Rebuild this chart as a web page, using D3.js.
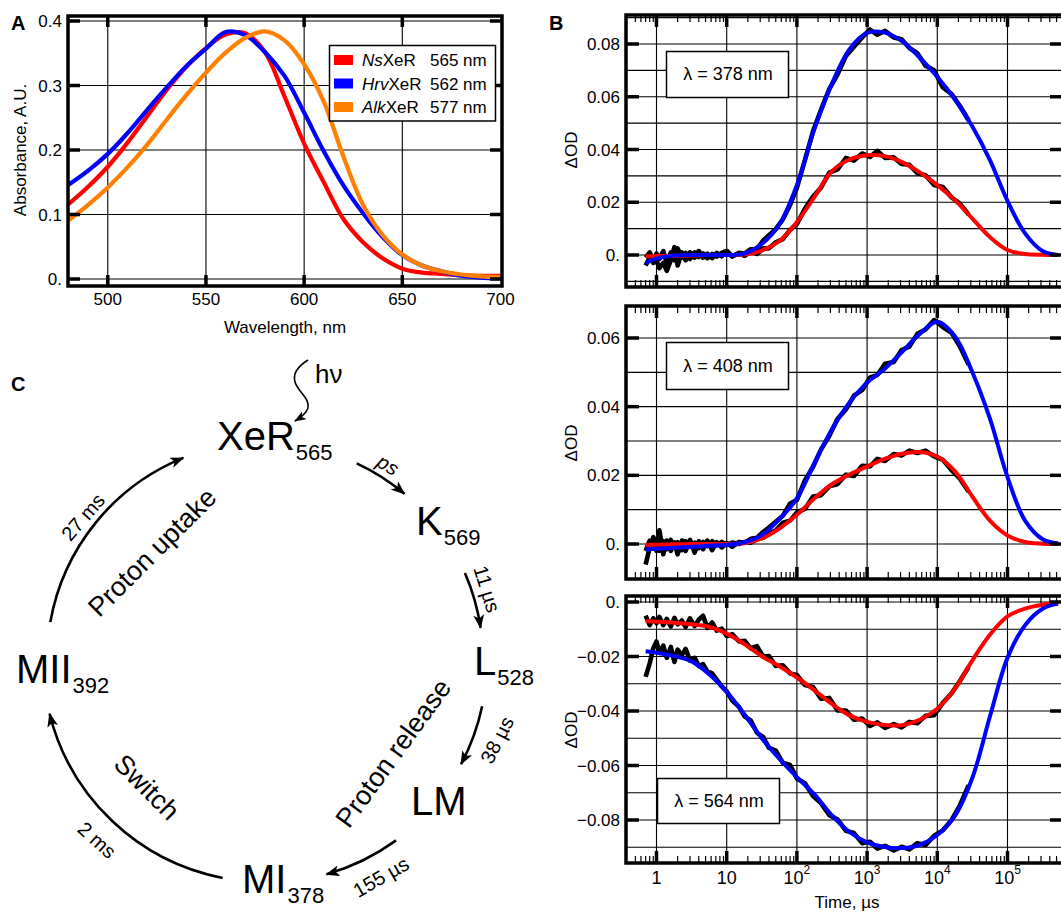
<!DOCTYPE html>
<html>
<head>
<meta charset="utf-8">
<script src="https://cdn.jsdelivr.net/npm/d3@7"></script>
<style>
  body { margin: 0; background: #fff; }
  svg { display: block; font-family: "Liberation Sans", Arial, Helvetica, sans-serif; }
</style>
</head>
<body>
<div id="fig"></div>
<script>
// ---------- panel A: absorption spectra ----------
const absWl = [480, 490, 500, 510, 520, 530, 540, 550, 560, 570, 580, 590, 600, 610, 620, 630, 640, 650, 660, 670, 680, 690, 700];
const absNs = [0.116, 0.143, 0.174, 0.211, 0.252, 0.293, 0.329, 0.358, 0.379, 0.381, 0.352, 0.283, 0.21, 0.15, 0.093, 0.057, 0.032, 0.016, 0.010, 0.008, 0.006, 0.005, 0.005];
const absHrv = [0.146, 0.168, 0.194, 0.226, 0.262, 0.297, 0.330, 0.357, 0.383, 0.378, 0.352, 0.315, 0.258, 0.198, 0.145, 0.102, 0.065, 0.037, 0.021, 0.012, 0.005, 0.002, 0.001];
const absAlk = [0.091, 0.115, 0.142, 0.173, 0.208, 0.247, 0.285, 0.320, 0.351, 0.374, 0.384, 0.370, 0.333, 0.275, 0.19, 0.115, 0.068, 0.038, 0.021, 0.012, 0.007, 0.004, 0.003];
const absTicksX = [500, 550, 600, 650, 700];
const absTicksY = [0, 0.1, 0.2, 0.3, 0.4];
const legendSpecies = ["Ns", "Hrv", "Alk"];
const legendPeaks = ["565 nm", "562 nm", "577 nm"];
const legendColors = ["#ff0000", "#0000ff", "#ff8000"];

// ---------- panel B: flash photolysis kinetics ----------
const fitTimes = [0.7, 1, 1.78, 3.16, 5.62, 10, 17.8, 31.6, 56.2, 100, 178, 316, 562, 1000, 1780, 3160, 5620, 10000, 17800, 31600, 56200, 100000, 178000, 316000, 525000];
const fit378Red = [-0.0005, -0.0004, -0.0003, -0.0002, 0, 0, 0.0002, 0.0017, 0.0053, 0.0125, 0.022, 0.0318, 0.0362, 0.0378, 0.0375, 0.0352, 0.0313, 0.0265, 0.0208, 0.0138, 0.0068, 0.0019, 0.0004, 0.0001, 0];
const fit378Blue = [-0.0030, -0.0014, -0.0002, 0, 0, 0, 0.0005, 0.0042, 0.0115, 0.0265, 0.0478, 0.065, 0.078, 0.0842, 0.0843, 0.081, 0.0748, 0.0676, 0.059, 0.0487, 0.036, 0.0205, 0.0082, 0.0015, 0];
const fit408Red = [-0.0003, -0.0002, -0.0001, 0, 0, 0, 0.0002, 0.0016, 0.0045, 0.0085, 0.0133, 0.0174, 0.0202, 0.0226, 0.0248, 0.0263, 0.0268, 0.0255, 0.0212, 0.0138, 0.0068, 0.0025, 0.0006, 0.0001, 0];
const fit408Blue = [-0.0016, -0.0014, -0.0011, -0.0008, -0.0005, -0.0003, 0.0005, 0.0026, 0.0072, 0.0133, 0.0236, 0.0334, 0.0412, 0.047, 0.051, 0.056, 0.0612, 0.0647, 0.0605, 0.050, 0.0365, 0.0195, 0.0068, 0.0014, 0.0002];
const fit564Red = [-0.0070, -0.0072, -0.0076, -0.0082, -0.0091, -0.0116, -0.0154, -0.0199, -0.0236, -0.0277, -0.0324, -0.0374, -0.0416, -0.044, -0.0451, -0.0452, -0.0432, -0.0392, -0.0318, -0.0214, -0.012, -0.0053, -0.0024, -0.001, -0.0004];
const fit564Blue = [-0.0181, -0.0186, -0.0198, -0.0218, -0.0265, -0.033, -0.0412, -0.050, -0.0575, -0.0643, -0.0706, -0.0783, -0.0844, -0.0882, -0.0899, -0.0903, -0.0891, -0.0855, -0.0785, -0.0645, -0.042, -0.0205, -0.0085, -0.0025, -0.0006];

const dataTimes = [0.7, 0.8, 0.9, 1, 1.1, 1.25, 1.4, 1.6, 1.8, 2, 2.3, 2.6, 3, 3.5, 4, 4.6, 5.3, 6.2, 7.2, 8.5, 10, 12, 15, 18, 22, 27, 33, 40, 50, 63, 80, 100, 130, 170, 220, 290, 380, 500, 650, 850, 1100, 1400, 1800, 2400, 3100, 4000, 5200, 6800, 9000, 12000, 16000, 21000, 28000];
const data378Red = [-0.001, 0.001, -0.002, 0.0005, -0.0015, 0.0015, -0.003, 0.001, -0.002, 0.0025, -0.001, 0.0008, -0.0015, 0.001, -0.0008, 0.0006, -0.0012, 0.0004, -0.0006, 0.0008, 0.0016, -0.0004, 0.0006, -0.0003, 0.0012, 0.0004, 0.0025, 0.0025, 0.0048, 0.006, 0.0095, 0.0118, 0.0175, 0.0222, 0.0255, 0.0312, 0.0325, 0.0368, 0.0358, 0.0385, 0.0372, 0.0395, 0.0368, 0.037, 0.0345, 0.0342, 0.031, 0.0302, 0.0265, 0.0258, 0.0218, 0.0195, 0.0153];
const data378Blue = [-0.004, -0.001, -0.003, -0.002, -0.005, -0.003, -0.006, -0.002, 0.003, -0.004, 0.001, -0.002, 0.001, -0.001, 0.0015, -0.001, 0.0005, -0.0012, 0.0008, -0.0005, 0.0012, -0.0006, 0.0008, 0.0005, 0.0022, 0.0022, 0.0055, 0.0075, 0.0098, 0.0135, 0.019, 0.0255, 0.036, 0.047, 0.055, 0.063, 0.0685, 0.0755, 0.079, 0.0825, 0.0855, 0.0835, 0.085, 0.0825, 0.0818, 0.0785, 0.0765, 0.0718, 0.07, 0.0635, 0.061, 0.0565, 0.051];
const data408Red = [-0.002, 0.001, -0.001, 0.0015, -0.002, 0.0008, -0.0015, 0.0012, -0.001, 0.0005, -0.0018, 0.0008, -0.0008, 0.0004, -0.0012, 0.0006, -0.0006, 0.0008, -0.0004, 0.0006, -0.0003, 0.0004, 0, 0.0006, 0.0004, 0.0014, 0.0018, 0.003, 0.004, 0.0062, 0.0068, 0.0092, 0.0102, 0.0138, 0.0142, 0.0168, 0.0175, 0.0202, 0.0198, 0.0228, 0.0226, 0.0248, 0.0242, 0.0262, 0.0258, 0.0272, 0.0265, 0.0272, 0.0255, 0.0245, 0.0215, 0.019, 0.0152];
const data408Blue = [-0.006, -0.001, 0.002, -0.002, 0.004, -0.003, 0.001, -0.002, 0.0005, -0.003, 0.001, -0.002, 0.0012, -0.0025, 0.0008, -0.0015, 0.001, -0.0018, 0.0005, -0.001, 0.0003, -0.0008, 0.0006, 0.0004, 0.0015, 0.0018, 0.0035, 0.0048, 0.0065, 0.0082, 0.0118, 0.0128, 0.0185, 0.0225, 0.0275, 0.0315, 0.0365, 0.0392, 0.0432, 0.0448, 0.0485, 0.0492, 0.0525, 0.053, 0.0565, 0.0575, 0.0612, 0.0625, 0.0652, 0.0632, 0.0615, 0.0575, 0.0522];
const data564Red = [-0.005, -0.0085, -0.006, -0.0078, -0.0055, -0.0085, -0.0062, -0.009, -0.0058, -0.0082, -0.0068, -0.0092, -0.006, -0.0088, -0.0065, -0.005, -0.0095, -0.0075, -0.0105, -0.0098, -0.0125, -0.0118, -0.0145, -0.0142, -0.017, -0.0162, -0.02, -0.0198, -0.0235, -0.0232, -0.0262, -0.0268, -0.0305, -0.0312, -0.0355, -0.0352, -0.0398, -0.0398, -0.0432, -0.0428, -0.0455, -0.0442, -0.0462, -0.0448, -0.046, -0.044, -0.0445, -0.0418, -0.0415, -0.037, -0.0335, -0.029, -0.0238];
const data564Blue = [-0.0275, -0.0225, -0.017, -0.0145, -0.0185, -0.016, -0.0205, -0.0165, -0.022, -0.0175, -0.0195, -0.0172, -0.0215, -0.0205, -0.0235, -0.0228, -0.0255, -0.0262, -0.0285, -0.031, -0.0328, -0.0362, -0.0385, -0.042, -0.0435, -0.048, -0.0495, -0.0535, -0.0545, -0.059, -0.0598, -0.0648, -0.0665, -0.0712, -0.0738, -0.0782, -0.0798, -0.084, -0.0848, -0.0885, -0.088, -0.0905, -0.0895, -0.0912, -0.0898, -0.0908, -0.0885, -0.0892, -0.0858, -0.0838, -0.08, -0.0746, -0.0672];

const timeDecades = [1, 10, 100, 1000, 10000, 100000];
const ticks378 = [0, 0.02, 0.04, 0.06, 0.08];
const ticks408 = [0, 0.02, 0.04, 0.06];
const ticks564 = [0, -0.02, -0.04, -0.06, -0.08];
const waveLabels = ["λ = 378 nm", "λ = 408 nm", "λ = 564 nm"];

const svg = d3.select("#fig").append("svg").attr("width", 1061).attr("height", 915);
const defs = svg.append("defs");

function tickFmt(v) {
    if (Math.abs(v) < 1e-9) return "0.";
    const s = Math.abs(v).toString();
    return (v < 0 ? "\u2212" : "") + s;
}

// ================= Panel A =================
const xA = d3.scaleLinear().domain([480, 700]).range([68.5, 500.5]);
const yA = d3.scaleLinear().domain([0, 0.4]).range([279, 21]);
const fA = {x0: 68, x1: 502, y0: 16, y1: 286};
const gA = svg.append("g");

defs.append("clipPath").attr("id", "clipA").append("rect")
    .attr("x", fA.x0).attr("y", fA.y0).attr("width", fA.x1 - fA.x0).attr("height", fA.y1 - fA.y0);

gA.selectAll("line.gx").data(absTicksX.filter(d => d < 700)).join("line").attr("class", "gx")
    .attr("x1", d => xA(d)).attr("x2", d => xA(d)).attr("y1", fA.y0).attr("y2", fA.y1)
    .attr("stroke", "#000").attr("stroke-width", 1.1);
gA.selectAll("line.gy").data(absTicksY).join("line").attr("class", "gy")
    .attr("x1", fA.x0).attr("x2", fA.x1).attr("y1", d => yA(d)).attr("y2", d => yA(d))
    .attr("stroke", "#000").attr("stroke-width", 1.1);

const lineA = d3.line().x((d, i) => xA(absWl[i])).y(d => yA(d)).curve(d3.curveCatmullRom.alpha(0.5));
const gAc = gA.append("g").attr("clip-path", "url(#clipA)");
[absNs, absHrv, absAlk].forEach((s, i) => {
    gAc.append("path").attr("d", lineA(s)).attr("fill", "none")
        .attr("stroke", legendColors[i]).attr("stroke-width", 4.2);
});

gA.append("rect").attr("x", fA.x0).attr("y", fA.y0).attr("width", fA.x1 - fA.x0).attr("height", fA.y1 - fA.y0)
    .attr("fill", "none").attr("stroke", "#000").attr("stroke-width", 3.5);

// major ticks
absTicksX.filter(d => d < 700).forEach(d => {
    gA.append("line").attr("x1", xA(d)).attr("x2", xA(d)).attr("y1", fA.y0).attr("y2", fA.y0 + 11).attr("stroke", "#000").attr("stroke-width", 3.5);
    gA.append("line").attr("x1", xA(d)).attr("x2", xA(d)).attr("y1", fA.y1).attr("y2", fA.y1 - 11).attr("stroke", "#000").attr("stroke-width", 3.5);
});
absTicksY.forEach(d => {
    gA.append("line").attr("x1", fA.x0).attr("x2", fA.x0 + 12).attr("y1", yA(d)).attr("y2", yA(d)).attr("stroke", "#000").attr("stroke-width", 3.5);
    gA.append("line").attr("x1", fA.x1).attr("x2", fA.x1 - 12).attr("y1", yA(d)).attr("y2", yA(d)).attr("stroke", "#000").attr("stroke-width", 3.5);
});

gA.selectAll("text.tx").data(absTicksX).join("text").attr("class", "tx")
    .attr("x", d => xA(d)).attr("y", 305).attr("text-anchor", "middle")
    .style("font-size", "17px").text(d => d);
gA.selectAll("text.ty").data(absTicksY).join("text").attr("class", "ty")
    .attr("x", 62).attr("y", d => yA(d)).attr("dy", "0.36em").attr("text-anchor", "end")
    .style("font-size", "17px").text(d => tickFmt(d));
gA.append("text").attr("x", 285).attr("y", 333).attr("text-anchor", "middle")
    .style("font-size", "17px").text("Wavelength, nm");
gA.append("text").attr("transform", "translate(26,150) rotate(-90)").attr("text-anchor", "middle")
    .style("font-size", "17px").text("Absorbance, A.U.");

// legend
gA.append("rect").attr("x", 329.5).attr("y", 45.5).attr("width", 166).attr("height", 75.5)
    .attr("fill", "#fff").attr("stroke", "#000").attr("stroke-width", 1.5);
legendSpecies.forEach((sp, i) => {
    const yy = 60 + i * 23.5;
    gA.append("rect").attr("x", 334).attr("y", yy - 5).attr("width", 19).attr("height", 10).attr("fill", legendColors[i]);
    const t = gA.append("text").attr("x", 362).attr("y", yy + 6).style("font-size", "17px");
    t.append("tspan").style("font-style", "italic").text(sp);
    t.append("tspan").text("XeR");
    gA.append("text").attr("x", 430).attr("y", yy + 6).style("font-size", "17px").text(legendPeaks[i]);
});

svg.append("text").attr("x", 11).attr("y", 30).style("font-size", "20px").style("font-weight", "bold").text("A");
svg.append("text").attr("x", 549).attr("y", 30).style("font-size", "20px").style("font-weight", "bold").text("B");
svg.append("text").attr("x", 11).attr("y", 391).style("font-size", "20px").style("font-weight", "bold").text("C");

// ================= Panel B =================
const tx = d3.scaleLog().domain([1, 1e5]).range([656.5, 1007.5]);
const bx0 = 626, bx1 = 1063;

const panels = [
    {top: 15, bottom: 287, dom: [0, 0.08], rng: [255, 44], ticks: ticks378, gridLo: -0.01, gridHi: 0.09,
     red: fit378Red, blue: fit378Blue, dRed: data378Red, dBlue: data378Blue, box: [666, 51, 122, 46], ylab: 150, axis: false},
    {top: 306, bottom: 579, dom: [0, 0.06], rng: [544, 338], ticks: ticks408, gridLo: -0.01, gridHi: 0.07,
     red: fit408Red, blue: fit408Blue, dRed: data408Red, dBlue: data408Blue, box: [666, 342, 122, 47], ylab: 443, axis: false},
    {top: 596, bottom: 863, dom: [0, -0.08], rng: [602, 820], ticks: ticks564, gridLo: -0.09, gridHi: 0.0,
     red: fit564Red, blue: fit564Blue, dRed: data564Red, dBlue: data564Blue, box: [657, 778, 122, 45], ylab: 730, axis: true}
];

const minorTimes = [];
[-1, 0, 1, 2, 3, 4, 5].forEach(e => { for (let k = 2; k <= 9; k++) minorTimes.push(k * Math.pow(10, e)); });

panels.forEach((p, i) => {
    const y = d3.scaleLinear().domain(p.dom).range(p.rng);
    const g = svg.append("g");
    const cid = "clipB" + i;
    defs.append("clipPath").attr("id", cid).append("rect")
        .attr("x", bx0).attr("y", p.top).attr("width", bx1 - bx0).attr("height", p.bottom - p.top);

    const hg = d3.range(p.gridLo, p.gridHi + 0.001, 0.01).filter(v => y(v) > p.top + 1 && y(v) < p.bottom - 1);
    g.selectAll("line.hg").data(hg).join("line").attr("class", "hg")
        .attr("x1", bx0).attr("x2", bx1).attr("y1", d => y(d)).attr("y2", d => y(d))
        .attr("stroke", "#000").attr("stroke-width", 1.1);
    g.selectAll("line.vg").data(timeDecades).join("line").attr("class", "vg")
        .attr("x1", d => tx(d)).attr("x2", d => tx(d)).attr("y1", p.top).attr("y2", p.bottom)
        .attr("stroke", "#000").attr("stroke-width", 1.1);

    const lineD = d3.line().x((d, j) => tx(dataTimes[j])).y(d => y(d));
    const lineF = d3.line().x((d, j) => tx(fitTimes[j])).y(d => y(d)).curve(d3.curveCatmullRom.alpha(0.5));
    const gc = g.append("g").attr("clip-path", `url(#${cid})`);
    [p.dRed, p.dBlue].forEach(s => {
        gc.append("path").attr("d", lineD(s)).attr("fill", "none")
            .attr("stroke", "#000").attr("stroke-width", 4.6).attr("stroke-linejoin", "round");
    });
    gc.append("path").attr("d", lineF(p.red)).attr("fill", "none").attr("stroke", "#ff0000").attr("stroke-width", 4);
    gc.append("path").attr("d", lineF(p.blue)).attr("fill", "none").attr("stroke", "#0000ff").attr("stroke-width", 4);

    // frame
    g.append("rect").attr("x", bx0).attr("y", p.top).attr("width", bx1 - bx0).attr("height", p.bottom - p.top)
        .attr("fill", "none").attr("stroke", "#000").attr("stroke-width", 3.5);

    // ticks
    minorTimes.filter(t => tx(t) > bx0 + 3 && tx(t) < bx1 - 3).forEach(t => {
        g.append("line").attr("x1", tx(t)).attr("x2", tx(t)).attr("y1", p.top).attr("y2", p.top + 7).attr("stroke", "#000").attr("stroke-width", 1.2);
        g.append("line").attr("x1", tx(t)).attr("x2", tx(t)).attr("y1", p.bottom).attr("y2", p.bottom - 7).attr("stroke", "#000").attr("stroke-width", 1.2);
    });
    timeDecades.forEach(t => {
        g.append("line").attr("x1", tx(t)).attr("x2", tx(t)).attr("y1", p.top).attr("y2", p.top + 12).attr("stroke", "#000").attr("stroke-width", 3.5);
        g.append("line").attr("x1", tx(t)).attr("x2", tx(t)).attr("y1", p.bottom).attr("y2", p.bottom - 12).attr("stroke", "#000").attr("stroke-width", 3.5);
    });
    p.ticks.forEach(v => {
        g.append("line").attr("x1", bx0).attr("x2", bx0 + 13).attr("y1", y(v)).attr("y2", y(v)).attr("stroke", "#000").attr("stroke-width", 3.5);
        g.append("line").attr("x1", bx1).attr("x2", bx1 - 13).attr("y1", y(v)).attr("y2", y(v)).attr("stroke", "#000").attr("stroke-width", 3.5);
    });
    g.selectAll("text.ty").data(p.ticks).join("text").attr("class", "ty")
        .attr("x", 620).attr("y", d => y(d)).attr("dy", "0.36em").attr("text-anchor", "end")
        .style("font-size", "17px").text(d => tickFmt(d));
    g.append("text").attr("transform", `translate(577,${p.ylab}) rotate(-90)`).attr("text-anchor", "middle")
        .style("font-size", "17px").text("\u0394OD");

    // wavelength box
    g.append("rect").attr("x", p.box[0] + 0.5).attr("y", p.box[1] + 0.5).attr("width", p.box[2]).attr("height", p.box[3])
        .attr("fill", "#fff").attr("stroke", "#000").attr("stroke-width", 1.5);
    g.append("text").attr("x", p.box[0] + p.box[2] / 2 + 1).attr("y", p.box[1] + p.box[3] / 2).attr("dy", "0.36em")
        .attr("text-anchor", "middle").style("font-size", "18px").text(waveLabels[i]);

    if (p.axis) {
        timeDecades.forEach((t, k) => {
            const tt = g.append("text").attr("x", tx(t)).attr("y", 884).attr("text-anchor", "middle").style("font-size", "18px");
            if (k < 2) { tt.text(t); }
            else {
                tt.append("tspan").text("10");
                tt.append("tspan").attr("dy", -10).style("font-size", "12px").text(k);
            }
        });
        g.append("text").attr("x", 847).attr("y", 908).attr("text-anchor", "middle").style("font-size", "17px").text("Time, \u00b5s");
    }
});

// ================= Panel C =================
const cx = 265, cy = 660;
const gC = svg.append("g");

defs.append("marker").attr("id", "ah").attr("viewBox", "0 0 14 11").attr("refX", 13).attr("refY", 5.5)
    .attr("markerWidth", 14).attr("markerHeight", 11).attr("markerUnits", "userSpaceOnUse").attr("orient", "auto")
    .append("path").attr("d", "M0,0 L14,5.5 L0,11 L3.5,5.5 Z").attr("fill", "#000");
defs.append("marker").attr("id", "ahs").attr("viewBox", "0 0 12 9").attr("refX", 11).attr("refY", 4.5)
    .attr("markerWidth", 12).attr("markerHeight", 9).attr("markerUnits", "userSpaceOnUse").attr("orient", "auto")
    .append("path").attr("d", "M0,0 L12,4.5 L0,9 L3,4.5 Z").attr("fill", "#000");

function arcArrow(a0, a1, r) {
    const p = d3.path();
    p.arc(cx, cy, r, a0 * Math.PI / 180, a1 * Math.PI / 180, false);
    gC.append("path").attr("d", p.toString()).attr("fill", "none").attr("stroke", "#000")
        .attr("stroke-width", 2.6).attr("marker-end", "url(#ah)");
}
arcArrow(-65, -50, 217);   // ps
arcArrow(-23.5, -8.5, 218); // 11 us
arcArrow(12, 28, 222);     // 38 us
arcArrow(54, 74, 223);     // 155 us
arcArrow(101, 166, 222);   // 2 ms
arcArrow(190, 248, 218);   // 27 ms

// h-nu wavy arrow
gC.append("path").attr("d", "M308,360 C300,365 292,372 295,382 C298,392 310,398 308,408 C306,414 300,418 295,421")
    .attr("fill", "none").attr("stroke", "#000").attr("stroke-width", 1.6).attr("marker-end", "url(#ahs)");
gC.append("text").attr("x", 315).attr("y", 383).style("font-size", "26px").text("h\u03bd");

function state(x, y, main, sub) {
    const t = gC.append("text").attr("x", x).attr("y", y).style("font-size", "40px");
    t.append("tspan").text(main);
    if (sub) t.append("tspan").attr("dy", 10).attr("dx", 1).style("font-size", "22px").text(sub);
}
state(217, 450, "XeR", "565");
state(416, 535, "K", "569");
state(474, 675, "L", "528");
state(411, 815, "LM", null);
state(242, 893, "MI", "378");
state(16, 683, "MII", "392");

function rotText(x, y, ang, txt, size, italic) {
    gC.append("text").attr("transform", `translate(${x},${y}) rotate(${ang})`)
        .attr("text-anchor", "middle").attr("dy", "0.35em").style("font-size", size + "px")
        .style("font-style", italic ? "italic" : "normal").text(txt);
}
rotText(388, 465, 31, "ps", 20, true);
rotText(487, 589, 73, "11 \u00b5s", 20);
rotText(497, 740, -63, "38 \u00b5s", 20);
rotText(381, 877, -30, "155 \u00b5s", 20);
rotText(97, 840, 42, "2 ms", 20);
rotText(83, 517, -49, "27 ms", 20);
rotText(147, 787, 45, "Switch", 27);
rotText(152, 552, -45, "Proton uptake", 27);
rotText(393, 753, -54, "Proton release", 27);
</script>
</body>
</html>
